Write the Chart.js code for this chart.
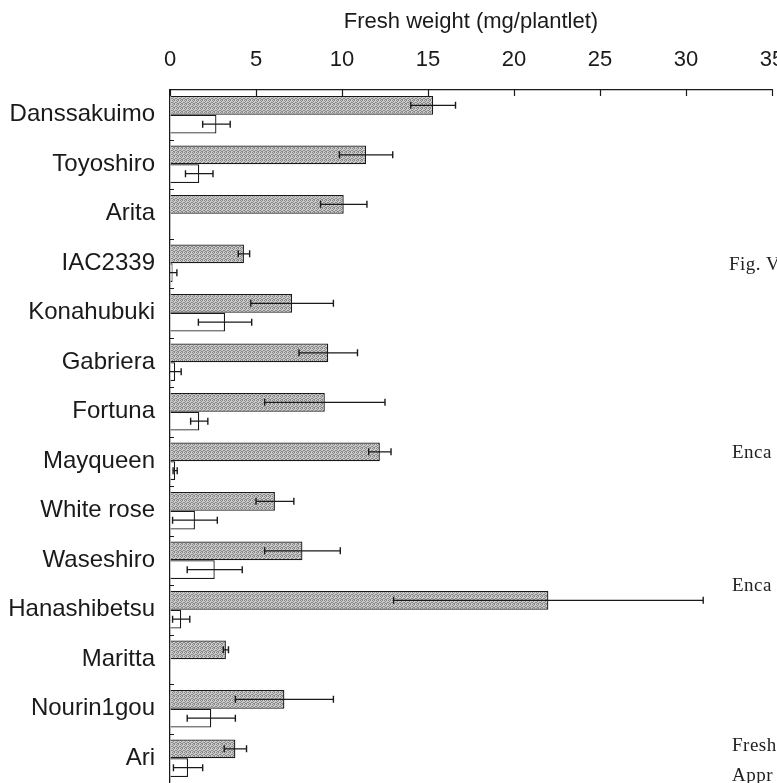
<!DOCTYPE html>
<html>
<head>
<meta charset="utf-8">
<script src="https://cdn.jsdelivr.net/npm/chart.js@4/dist/chart.umd.min.js"></script>
<style>
  html, body { margin: 0; padding: 0; background: #fff; overflow: hidden; }
  #wrap { position: relative; width: 777px; height: 783px; }
  .note { position: absolute; font-family: "Liberation Serif", "Times New Roman", serif; font-size: 19px; line-height: 19px; color: #222; letter-spacing: 0.5px; white-space: nowrap; }
</style>
</head>
<body>
<div id="wrap">
  <canvas id="weightChart" width="777" height="783"></canvas>
  <div class="note" style="left:729px; top:254px;">Fig. V</div>
  <div class="note" style="left:732px; top:442px;">Enca</div>
  <div class="note" style="left:732px; top:575px;">Enca</div>
  <div class="note" style="left:732px; top:735px;">Fresh</div>
  <div class="note" style="left:732px; top:765px;">Appr</div>
</div>
<script>
// cultivars, top to bottom
const varieties = ["Danssakuimo", "Toyoshiro", "Arita", "IAC2339", "Konahubuki", "Gabriera", "Fortuna",
  "Mayqueen", "White rose", "Waseshiro", "Hanashibetsu", "Maritta", "Nourin1gou", "Ari"];

// grey (shaded) bars and their error
const greyMean = [15.3, 11.4, 10.1, 4.3, 7.1, 9.2, 9.0, 12.2, 6.1, 7.7, 22.0, 3.25, 6.65, 3.8];
const greyErr  = [1.3, 1.55, 1.35, 0.33, 2.4, 1.7, 3.5, 0.65, 1.1, 2.2, 9.0, 0.15, 2.85, 0.65];

// white bars and their error
const whiteMean = [2.7, 1.7, 0, 0.15, 3.2, 0.3, 1.7, 0.3, 1.45, 2.6, 0.65, 0, 2.4, 1.05];
const whiteErr  = [0.8, 0.8, 0, 0.25, 1.55, 0.35, 0.5, 0.12, 1.3, 1.6, 0.5, 0, 1.4, 0.85];

const xTicksMax = 35;
const xStep = 5;

const FONT = "'Liberation Sans', Arial, sans-serif";
const INK = "#1a1a1a";

// dotted grey fill like the scanned figure
function greyPattern() {
  const c = document.createElement("canvas");
  c.width = 4; c.height = 4;
  const g = c.getContext("2d");
  g.fillStyle = "#cccccc";
  g.fillRect(0, 0, 4, 4);
  g.fillStyle = "#878787";
  [[0, 0], [2, 0], [1, 1], [3, 2], [0, 2], [2, 3], [1, 3]].forEach(([a, b]) => g.fillRect(a, b, 1, 1));
  return g.createPattern(c, "repeat");
}

// error bars with caps on both ends
const errorBars = {
  id: "errorBars",
  afterDatasetsDraw(chart) {
    const ctx = chart.ctx;
    const xs = chart.scales.x;
    ctx.save();
    ctx.strokeStyle = INK;
    ctx.lineWidth = 1.4;
    [greyErr, whiteErr].forEach((errs, d) => {
      const vals = chart.data.datasets[d].data;
      chart.getDatasetMeta(d).data.forEach((bar, i) => {
        const e = errs[i];
        if (!e) return;
        const lo = vals[i] - e;
        const x0 = xs.getPixelForValue(Math.max(lo, 0));
        const x1 = xs.getPixelForValue(vals[i] + e);
        const y = bar.y;
        ctx.beginPath();
        ctx.moveTo(x0, y); ctx.lineTo(x1, y);
        ctx.moveTo(x1, y - 3.5); ctx.lineTo(x1, y + 3.5);
        if (lo > 0) { ctx.moveTo(x0, y - 3.5); ctx.lineTo(x0, y + 3.5); }
        ctx.stroke();
      });
    });
    ctx.restore();
  }
};

// tick marks that point into the plot
const innerTicks = {
  id: "innerTicks",
  afterDraw(chart) {
    const ctx = chart.ctx;
    const { x, y } = chart.scales;
    const top = chart.chartArea.top, left = chart.chartArea.left;
    ctx.save();
    ctx.strokeStyle = INK;
    ctx.lineWidth = 1.2;
    ctx.beginPath();
    x.ticks.forEach(t => {
      const px = Math.round(x.getPixelForValue(t.value)) + 0.5;
      ctx.moveTo(px, top); ctx.lineTo(px, top + 6);
    });
    for (let i = 1; i < varieties.length; i++) {
      const py = Math.round((y.getPixelForValue(i - 1) + y.getPixelForValue(i)) / 2) + 0.5;
      ctx.moveTo(left, py); ctx.lineTo(left + 4, py);
    }
    ctx.stroke();
    ctx.restore();
  }
};

new Chart(document.getElementById("weightChart"), {
  type: "bar",
  data: {
    labels: varieties,
    datasets: [
      {
        data: greyMean,
        backgroundColor: greyPattern(),
        borderColor: INK,
        borderWidth: 1.3,
        borderSkipped: "start",
        barPercentage: 1.0,
        categoryPercentage: 0.76
      },
      {
        data: whiteMean,
        backgroundColor: "#ffffff",
        borderColor: INK,
        borderWidth: 1.3,
        borderSkipped: "start",
        barPercentage: 1.0,
        categoryPercentage: 0.76
      }
    ]
  },
  options: {
    indexAxis: "y",
    responsive: false,
    animation: false,
    layout: { padding: { left: 0, right: 5, top: 0, bottom: 0 } },
    plugins: { legend: { display: false }, tooltip: { enabled: false } },
    scales: {
      x: {
        position: "top",
        min: 0,
        max: xTicksMax,
        ticks: { stepSize: xStep, color: INK, font: { family: FONT, size: 22 }, padding: 17 },
        grid: { drawOnChartArea: false, drawTicks: false },
        border: { color: INK, width: 1.3 },
        title: {
          display: true,
          text: "Fresh weight (mg/plantlet)",
          color: INK,
          font: { family: FONT, size: 22 },
          padding: { top: 9, bottom: 0 }
        },
        afterFit(s) { s.height = 90; s.paddingLeft = 0; s.paddingRight = 0; }
      },
      y: {
        ticks: { color: INK, font: { family: FONT, size: 24 }, padding: 15 },
        grid: { drawOnChartArea: false, drawTicks: false },
        border: { color: INK, width: 1.3 },
        afterFit(s) { s.width = 170; s.paddingTop = 0; s.paddingBottom = 0; }
      }
    }
  },
  plugins: [errorBars, innerTicks]
});
</script>
</body>
</html>
